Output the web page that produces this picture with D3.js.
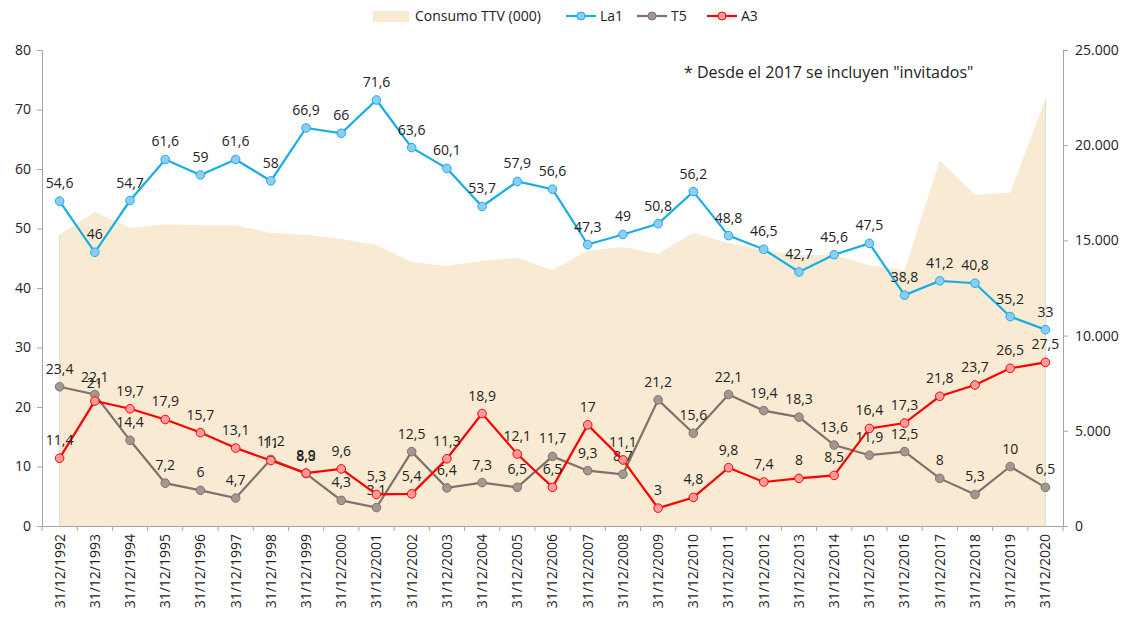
<!DOCTYPE html>
<html><head><meta charset="utf-8">
<script src="https://cdn.jsdelivr.net/npm/d3@7"></script>
<style>body{margin:0;background:#fff}svg{display:block}text{font-family:"Open Sans","Noto Sans",sans-serif;fill:#222}</style>
</head><body><svg id="c" width="1135" height="617"></svg>
<script>
const years = d3.range(1992, 2021).map(y => "31/12/" + y);
const consumo = [15300,16500,15650,15850,15800,15800,15400,15300,15080,14760,13870,13650,13920,14080,13450,14450,14650,14300,15400,14870,14500,14230,14230,13700,13450,19200,17400,17500,22400];
const la1 = [54.6,46,54.7,61.6,59,61.6,58,66.9,66,71.6,63.6,60.1,53.7,57.9,56.6,47.3,49,50.8,56.2,48.8,46.5,42.7,45.6,47.5,38.8,41.2,40.8,35.2,33];
const t5 = [23.4,22.1,14.4,7.2,6,4.7,11.2,8.8,4.3,3.1,12.5,6.4,7.3,6.5,11.7,9.3,8.7,21.2,15.6,22.1,19.4,18.3,13.6,11.9,12.5,8,5.3,10,6.5];
const a3 = [11.4,21,19.7,17.9,15.7,13.1,11,8.9,9.6,5.3,5.4,11.3,18.9,12.1,6.5,17,11.1,3,4.8,9.8,7.4,8,8.5,16.4,17.3,21.8,23.7,26.5,27.5];
const leftTicks = [0,10,20,30,40,50,60,70,80];
const rightTicks = [0,5000,10000,15000,20000,25000];
const legendNames = ["Consumo TTV (000)","La1","T5","A3"];

const svg = d3.select("#c");
const L = 42, R = 1063, T = 50, B = 526;
const x = d3.scaleBand().domain(years).range([L, R]);
const cx = d => x(d) + x.bandwidth()/2;
const yL = d3.scaleLinear().domain([0,80]).range([B, T]);
const yR = d3.scaleLinear().domain([0,25000]).range([B, T]);
const fmtNum = v => String(v).replace(".", ",");
const fmtR = v => d3.format(",")(v).replace(/,/g, ".");

// area
const areaData = years.map((d,i)=>({d, v: consumo[i]}));
svg.append("path").datum(areaData)
  .attr("d", d3.area().x(p=>cx(p.d)).y0(B).y1(p=>yR(p.v)))
  .attr("fill", "#F9EBD3");
svg.append("line").attr("x1",cx(years[0])).attr("x2",cx(years[0])).attr("y1",yR(consumo[0])).attr("y2",B).attr("stroke","#dcdcdc");
svg.append("line").attr("x1",cx(years[28])).attr("x2",cx(years[28])).attr("y1",yR(consumo[28])).attr("y2",B).attr("stroke","#dcdcdc");

// axes
const axL = svg.append("g").attr("transform",`translate(${L},0)`).call(d3.axisLeft(yL).tickValues(leftTicks).tickSize(5).tickPadding(6));
const axR = svg.append("g").attr("transform",`translate(${R},0)`).call(d3.axisRight(yR).tickValues(rightTicks).tickFormat(fmtR).tickSize(5).tickPadding(7));
const axB = svg.append("g").attr("transform",`translate(0,${B})`).call(d3.axisBottom(x).tickSize(0).tickPadding(8));
[axL, axR, axB].forEach(g=>{
  g.selectAll("path.domain").attr("stroke","#a6a6a6");
  g.selectAll(".tick line").attr("stroke","#a6a6a6");
  g.selectAll("text").style("font-size","14px").attr("fill","#222");
});
axB.selectAll("text").attr("transform","rotate(-90)").attr("text-anchor","end").attr("dx","-8").attr("dy","0.35em").attr("x",0).attr("y",0);
// category boundary ticks
svg.append("g").selectAll("line").data(d3.range(0,30)).join("line")
  .attr("x1",i=>L+i*x.step()).attr("x2",i=>L+i*x.step()).attr("y1",B).attr("y2",B+5).attr("stroke","#a6a6a6");

// series
const series = [
  {vals: la1, line:"#17AEE6", fill:"#8ECDF3"},
  {vals: t5, line:"#7E726B", fill:"#A39891"},
  {vals: a3, line:"#FF0000", fill:"#FF9B9B"}
];
series.forEach(s=>{
  const dd = years.map((d,i)=>({d, v:s.vals[i]}));
  svg.append("path").datum(dd).attr("fill","none").attr("stroke",s.line).attr("stroke-width",2.2)
    .attr("d", d3.line().x(p=>cx(p.d)).y(p=>yL(p.v)));
  svg.append("g").selectAll("circle").data(dd).join("circle")
    .attr("cx",p=>cx(p.d)).attr("cy",p=>yL(p.v)).attr("r",4.3)
    .attr("fill",s.fill).attr("stroke",s.line).attr("stroke-width",1);
  svg.append("g").selectAll("text").data(dd).join("text")
    .attr("x",p=>cx(p.d)).attr("y",p=>yL(p.v)-13).attr("text-anchor","middle")
    .style("font-size","14px").text(p=>fmtNum(p.v));
});

// annotation
svg.append("text").attr("x",684).attr("y",78).style("font-size","16px").text('* Desde el 2017 se incluyen "invitados"');

// legend
const lg = svg.append("g");
lg.append("rect").attr("x",373).attr("y",11).attr("width",36).attr("height",11).attr("fill","#F9EBD3");
lg.append("text").attr("x",415).attr("y",21).style("font-size","14px").text(legendNames[0]);
const legPos = [566, 637, 707];
series.forEach((s,i)=>{
  const x0 = legPos[i];
  lg.append("line").attr("x1",x0).attr("x2",x0+30).attr("y1",16).attr("y2",16).attr("stroke",s.line).attr("stroke-width",2.2);
  lg.append("circle").attr("cx",x0+15).attr("cy",16).attr("r",4).attr("fill",s.fill).attr("stroke",s.line);
  lg.append("text").attr("x",x0+34).attr("y",21).style("font-size","14px").text(legendNames[i+1]);
});
</script></body></html>
